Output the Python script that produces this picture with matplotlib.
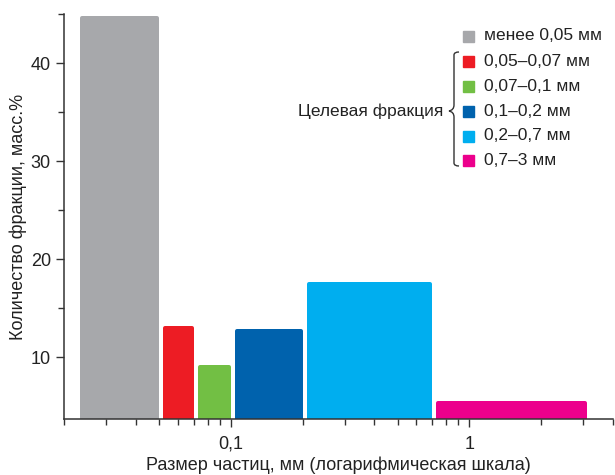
import matplotlib.pyplot as plt
import numpy as np
from matplotlib.patches import Rectangle
from matplotlib.path import Path
from matplotlib.patches import PathPatch
from matplotlib.ticker import FixedLocator, NullFormatter

plt.rcParams['font.family'] = ['Liberation Sans', 'DejaVu Sans']

# данные
edges = [0.0225, 0.05, 0.07, 0.1, 0.2, 0.7, 3.1]
values = [44.8, 13.15, 9.2, 12.85, 17.65, 5.55]
labels = ["менее 0,05 мм", "0,05–0,07 мм", "0,07–0,1 мм", "0,1–0,2 мм", "0,2–0,7 мм", "0,7–3 мм"]
colors = ["#A7A8AB", "#ED1C24", "#72BF44", "#0062AD", "#00AEEF", "#EC008C"]

ymin = 3.7

fig = plt.figure(figsize=(6.15, 4.75), dpi=100)
ax = fig.add_axes([64 / 615, 1 - 419 / 475, 549 / 615, 405 / 475])
ax.set_xscale("log")

# столбцы со скруглёнными углами: обводка того же цвета, прямоугольник уменьшен на её половину
stroke_px = 4
dec_per_px = 1 / 239
y_per_px = 10 / 98
for i, v in enumerate(values):
    left = 10 ** (np.log10(edges[i]) + (4 + stroke_px / 2) * dec_per_px)
    right = 10 ** (np.log10(edges[i + 1]) - stroke_px / 2 * dec_per_px)
    top = v - stroke_px / 2 * y_per_px
    ax.bar(left, top - (ymin - 1), width=right - left, bottom=ymin - 1, align="edge",
           color=colors[i], edgecolor=colors[i], linewidth=stroke_px * 0.72,
           joinstyle="round")

ax.set_xlim(0.02, 4)
ax.set_ylim(ymin, 45)

# оси
for s in ["top", "right"]:
    ax.spines[s].set_visible(False)
for s in ["left", "bottom"]:
    ax.spines[s].set_linewidth(1.1)
    ax.spines[s].set_color("#333333")
    ax.spines[s].set_zorder(5)

ax.xaxis.set_major_locator(FixedLocator([0.1, 1]))
ax.set_xticklabels(["0,1", "1"])
minor_x = [0.02, 0.03, 0.04, 0.05, 0.06, 0.07, 0.08, 0.09,
           0.2, 0.3, 0.4, 0.5, 0.6, 0.7, 0.8, 0.9, 2, 3, 4]
ax.xaxis.set_minor_locator(FixedLocator(minor_x))
ax.xaxis.set_minor_formatter(NullFormatter())
ax.set_yticks([10, 20, 30, 40])
ax.set_yticks([15, 25, 35, 45], minor=True)
ax.tick_params(which="major", length=6, width=1, color="#333333", labelsize=13, labelcolor="#222222")
ax.tick_params(which="minor", length=4, width=1, color="#333333")
ax.tick_params(axis="x", which="major", pad=6)

ax.set_xlabel("Размер частиц, мм (логарифмическая шкала)", fontsize=13, color="#222222", labelpad=3)
ax.set_ylabel("Количество фракции, масс.%", fontsize=13, color="#222222", labelpad=3)

# легенда
def px(x, y):
    return ((x - 64) / 549, (419 - y) / 405)

rows = [36, 61.5, 86.5, 111, 136, 160.5]
for i, lab in enumerate(labels):
    x0, y0 = px(463, rows[i] + 5.5)
    w = 11 / 549
    h = 11 / 405
    ax.add_patch(Rectangle((x0, y0), w, h, transform=ax.transAxes,
                           color=colors[i], clip_on=False))
    tx, ty = px(484, rows[i])
    ax.text(tx, ty, lab, transform=ax.transAxes, fontsize=12.5,
            va="center", ha="left", color="#222222")

tx, ty = px(443, 111)
ax.text(tx, ty, "Целевая фракция", transform=ax.transAxes, fontsize=12.5,
        va="center", ha="right", color="#222222")

# фигурная скобка
pts = [(459, 52), (454, 52), (454, 55), (454, 58),
       (454, 105), (454, 110), (449, 111),
       (454, 112), (454, 117),
       (454, 163), (454, 166), (459, 166)]
verts = [px(x, y) for x, y in pts]
codes = [Path.MOVETO, Path.CURVE3, Path.CURVE3, Path.LINETO,
         Path.LINETO, Path.CURVE3, Path.CURVE3,
         Path.CURVE3, Path.CURVE3,
         Path.LINETO, Path.CURVE3, Path.CURVE3]
ax.add_patch(PathPatch(Path(verts, codes), transform=ax.transAxes,
                       fill=False, edgecolor="#333333", linewidth=1, clip_on=False))

fig.savefig("out.png", dpi=100)
